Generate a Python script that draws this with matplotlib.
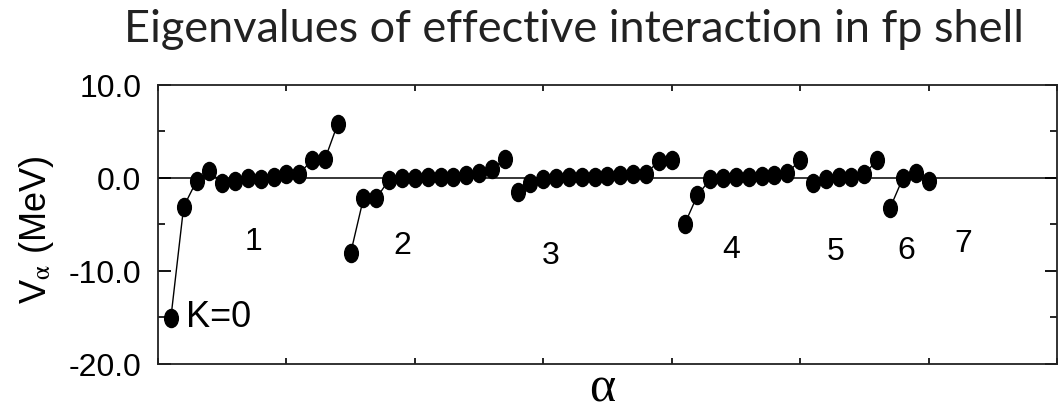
import numpy as np
import matplotlib.pyplot as plt
from matplotlib.path import Path

plt.rcParams['font.family'] = ['Liberation Sans', 'DejaVu Sans']
plt.rcParams['mathtext.fontset'] = 'stix'

# Eigenvalues (MeV) per group
g0 = [-15.1, -3.1, -0.35, 0.75, -0.6, -0.35, -0.05, -0.15, 0.05, 0.45, 0.45, 1.9, 2.0, 5.8]
g1 = [-8.1, -2.2, -2.2, -0.2, -0.05, -0.05, 0.05, 0.05, 0.1, 0.3, 0.55, 0.95, 2.0]
g2 = [-1.55, -0.6, -0.15, -0.05, 0.05, 0.1, 0.1, 0.2, 0.3, 0.4, 0.4, 1.85, 1.9]
g3 = [-5.0, -1.9, -0.15, -0.05, 0.05, 0.1, 0.2, 0.3, 0.5, 1.9]
g4 = [-0.6, -0.15, 0.05, 0.1, 0.4, 1.9]
g5 = [-3.25, -0.05, 0.5, -0.3]
groups = [g0, g1, g2, g3, g4, g5]

group_labels = ['1', '2', '3', '4', '5', '6', '7']
label_x = [7.4, 19.0, 30.6, 44.6, 52.8, 58.3, 62.7]
label_y = [-6.8, -7.2, -8.3, -7.7, -7.9, -7.8, -7.0]

yticks = [10, 0, -10, -20]
yticklabels = ['10.0', '0.0', '-10.0', '-20.0']

fig = plt.figure(figsize=(10.61, 4.14), dpi=100)
ax = fig.add_axes([0.1489, 0.1184, 0.8473, 0.6746])

# elliptical marker (taller than wide)
circ = Path.unit_circle()
ell = Path(circ.vertices * [0.76, 1.0], circ.codes)

ax.axhline(0, color='black', lw=1.1, zorder=1)

start = 1
for g in groups:
    x = np.arange(start, start + len(g))
    ax.plot(x, g, color='black', lw=1.0, marker=ell, markersize=13,
            markerfacecolor='black', markeredgecolor='black', zorder=2)
    start += len(g)

for t, xx, yy in zip(group_labels, label_x, label_y):
    ax.text(xx, yy, t, fontsize=23, ha='center', va='center')
ax.text(2.2, -14.9, 'K=0', fontsize=26, ha='left', va='center')

ax.set_xlim(0, 70)
ax.set_ylim(-20, 10)
ax.set_xticks(np.arange(0, 71, 10))
ax.set_xticklabels([])
ax.set_yticks(yticks)
ax.set_yticklabels(yticklabels)
ax.set_yticks([5, -5, -15], minor=True)
ax.tick_params(axis='y', which='major', direction='in', left=True, right=True,
               length=9, width=1.3, labelsize=23, pad=12)
ax.tick_params(axis='y', which='minor', direction='in', left=True, right=True,
               length=5, width=1.2)
ax.tick_params(axis='x', which='major', direction='in', bottom=True, top=True,
               length=4, width=1.2)
for s in ax.spines.values():
    s.set_linewidth(1.3)
    s.set_color('#222222')

fig.text(37 / 1061, 1 - 230 / 414, r'V$_{\mathrm{\alpha}}$ (MeV)', fontsize=26,
         rotation=90, ha='center', va='center')
fig.text(602 / 1061, 1 - 413 / 414, 'α', fontsize=36,
         family=['Liberation Serif', 'DejaVu Serif'], ha='center', va='bottom')
fig.text(574 / 1061, 1 - 41.7 / 414, 'Eigenvalues of effective interaction in fp shell',
         fontsize=32.5, family=['Lato', 'DejaVu Sans'], color='#222222',
         ha='center', va='baseline')

fig.savefig('out.png', dpi=100)
